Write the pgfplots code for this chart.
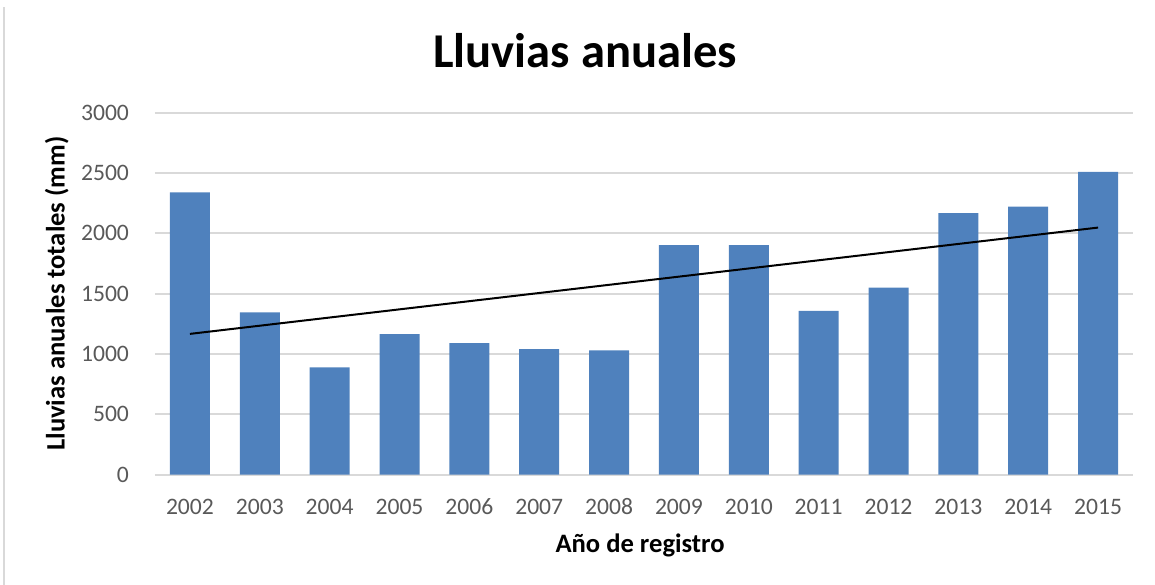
\documentclass[border=0pt]{standalone}
\usepackage{fontspec}
\setmainfont{Carlito}
\usepackage{pgfplots}
\pgfplotsset{compat=1.18}
\definecolor{barblue}{HTML}{4F81BD}
\definecolor{gridgray}{HTML}{D9D9D9}
\definecolor{ticktext}{HTML}{595959}

\begin{document}
\begin{tikzpicture}
\path[use as bounding box] (-77.5pt,-55pt) rectangle (500pt,237.35pt);
\draw[gridgray, line width=0.8pt] (-75.5pt,-55pt) -- (-75.5pt,234pt);
\begin{axis}[
    scale only axis,
    width=489pt, height=181pt,
    xmin=-0.5, xmax=13.5,
    ymin=0, ymax=3000,
    xtick={0,...,13},
    xticklabels={2002,2003,2004,2005,2006,2007,2008,2009,2010,2011,2012,2013,2014,2015},
    ytick={0,500,...,3000},
    ymajorgrids,
    grid style={gridgray, line width=0.9pt},
    axis line style={draw=none},
    tick style={draw=none},
    /pgf/number format/assume math mode=true,
    /pgf/number format/1000 sep={},
    ticklabel style={font=\fontsize{11.8}{14}\selectfont, text=ticktext},
    yticklabel style={xshift=-9.5pt},
    xticklabel style={yshift=-8.5pt},
    xlabel={Año de registro},
    ylabel={Lluvias anuales totales (mm)},
    every axis x label/.style={at={(axis description cs:0.496,-0.2155)}, anchor=base},
    every axis y label/.style={at={(axis description cs:-0.1005,0.5)}, rotate=90, anchor=center},
    label style={font=\bfseries\fontsize{13.3}{16}\selectfont},
    clip=false,
]
% precipitación anual (mm)
\addplot[ybar, bar width=20pt, fill=barblue, draw=none] coordinates {
    (0,2340) (1,1345) (2,890) (3,1165) (4,1090) (5,1041) (6,1030)
    (7,1902) (8,1902) (9,1358) (10,1551) (11,2167) (12,2222) (13,2509)
};
% línea de tendencia
\addplot[black, line width=1pt, mark=none] coordinates {
    (0,1167) (13,2048)
};
\end{axis}
\node[anchor=base, font=\bfseries\fontsize{24.3}{29}\selectfont] at (215pt,203.7pt) {Lluvias anuales};
\end{tikzpicture}
\end{document}
